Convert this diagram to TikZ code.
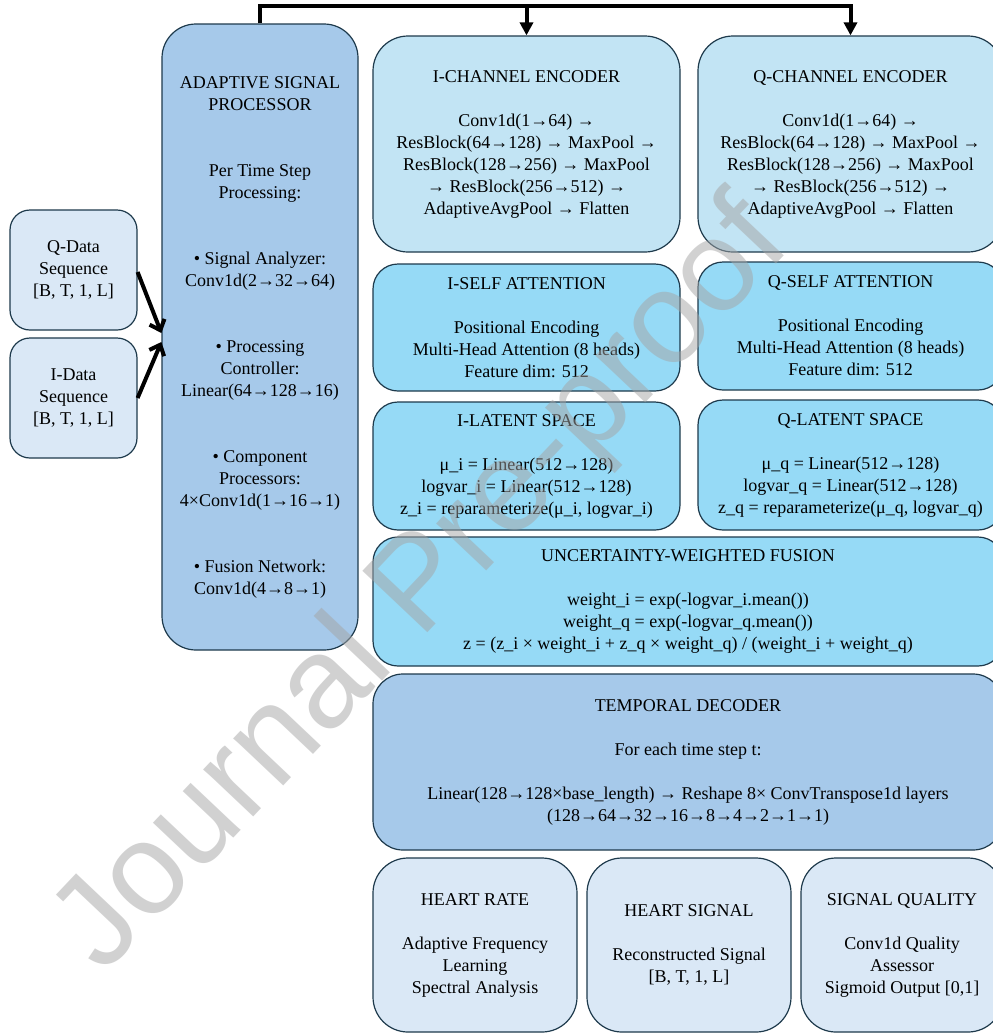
\documentclass[tikz,border=0pt]{standalone}
\usepackage{fontspec}
\setmainfont{Liberation Serif}
\newfontfamily\wmfont{Liberation Sans}
\usetikzlibrary{arrows.meta}
\definecolor{cLight}{HTML}{DAE8F6}
\definecolor{cMid}{HTML}{A6C9EA}
\definecolor{cEnc}{HTML}{C2E4F4}
\definecolor{cCyan}{HTML}{96DAF6}
\definecolor{cEdge}{HTML}{1E3A4C}
\definecolor{cWM}{HTML}{A4A4A4}
\tikzset{
  blk/.style={draw=cEdge, line width=1.2pt, align=center, inner sep=0pt,
    font=\fontsize{18}{22}\selectfont, text=black},
  conn/.style={line width=4pt, draw=black},
  toparrow/.style={conn, -{Triangle[length=13pt,width=13pt]}},
  inarrow/.style={conn, -{Straight Barb[length=9pt,width=16pt,line width=4pt]}},
}
\begin{document}
\begin{tikzpicture}[x=1pt,y=-1pt]
\useasboundingbox (0,0) rectangle (993,1034);
\clip (0,0) rectangle (993,1034);
\fill[white] (0,0) rectangle (993,1034);

% inputs
\node[blk, fill=cLight, rounded corners=20pt, minimum width=127pt, minimum height=120pt] (qdata) at (73.5,270)
  {Q-Data\\Sequence\\{[B, T, 1, L]}};
\node[blk, fill=cLight, rounded corners=20pt, minimum width=127pt, minimum height=120pt] (idata) at (73.5,398)
  {I-Data\\Sequence\\{[B, T, 1, L]}};

% adaptive signal processor
\node[blk, fill=cMid, rounded corners=34pt, minimum width=196pt, minimum height=626pt] (asp) at (260,337)
  {ADAPTIVE SIGNAL\\PROCESSOR\\[44pt]Per Time Step\\Processing:\\[44pt]%
   • Signal Analyzer:\\Conv1d(2→32→64)\\[44pt]• Processing\\Controller:\\Linear(64→128→16)\\[44pt]%
   • Component\\Processors:\\4×Conv1d(1→16→1)\\[44pt]• Fusion Network:\\Conv1d(4→8→1)};

% encoders
\node[blk, fill=cEnc, rounded corners=35pt, minimum width=307pt, minimum height=216pt] (ienc) at (526.5,144)
  {I-CHANNEL ENCODER\\[22pt]Conv1d(1→64) →\\ResBlock(64→128) → MaxPool →\\ResBlock(128→256) → MaxPool\\→ ResBlock(256→512) →\\AdaptiveAvgPool → Flatten};
\node[blk, fill=cEnc, rounded corners=35pt, minimum width=305pt, minimum height=216pt] (qenc) at (850.5,144)
  {Q-CHANNEL ENCODER\\[22pt]Conv1d(1→64) →\\ResBlock(64→128) → MaxPool →\\ResBlock(128→256) → MaxPool\\→ ResBlock(256→512) →\\AdaptiveAvgPool → Flatten};

% self attention
\node[blk, fill=cCyan, rounded corners=25pt, minimum width=307pt, minimum height=127pt] (iatt) at (526.5,327.5)
  {I-SELF ATTENTION\\[22pt]Positional Encoding\\Multi-Head Attention (8 heads)\\Feature dim: 512};
\node[blk, fill=cCyan, rounded corners=25pt, minimum width=305pt, minimum height=128pt] (qatt) at (850.5,326)
  {Q-SELF ATTENTION\\[22pt]Positional Encoding\\Multi-Head Attention (8 heads)\\Feature dim: 512};

% latent
\node[blk, fill=cCyan, rounded corners=25pt, minimum width=307pt, minimum height=128pt] (ilat) at (526.5,466)
  {I-LATENT SPACE\\[22pt]μ\_i = Linear(512→128)\\logvar\_i = Linear(512→128)\\z\_i = reparameterize(μ\_i, logvar\_i)};
\node[blk, fill=cCyan, rounded corners=25pt, minimum width=305pt, minimum height=130pt] (qlat) at (850.5,465)
  {Q-LATENT SPACE\\[22pt]μ\_q = Linear(512→128)\\logvar\_q = Linear(512→128)\\z\_q = reparameterize(μ\_q, logvar\_q)};

% fusion
\node[blk, fill=cCyan, rounded corners=25pt, minimum width=630pt, minimum height=129pt] (fus) at (688,601.5)
  {UNCERTAINTY-WEIGHTED FUSION\\[22pt]weight\_i = exp(-logvar\_i.mean())\\weight\_q = exp(-logvar\_q.mean())\\z = (z\_i × weight\_i + z\_q × weight\_q) / (weight\_i + weight\_q)};

% decoder
\node[blk, fill=cMid, rounded corners=30pt, minimum width=630pt, minimum height=176pt] (dec) at (688,762)
  {TEMPORAL DECODER\\[22pt]For each time step t:\\[22pt]Linear(128→128×base\_length) → Reshape 8× ConvTranspose1d layers\\(128→64→32→16→8→4→2→1→1)};

% outputs
\node[blk, fill=cLight, rounded corners=35pt, minimum width=204pt, minimum height=174pt] (hr) at (475,945)
  {HEART RATE\\[22pt]Adaptive Frequency\\Learning\\Spectral Analysis};
\node[blk, fill=cLight, rounded corners=35pt, minimum width=204pt, minimum height=174pt] (hs) at (689,945)
  {HEART SIGNAL\\[22pt]Reconstructed Signal\\{[B, T, 1, L]}};
\node[blk, fill=cLight, rounded corners=35pt, minimum width=202pt, minimum height=174pt] (sq) at (902,945)
  {SIGNAL QUALITY\\[22pt]Conv1d Quality\\Assessor\\Sigmoid Output [0,1]};

% connectors
\coordinate (bus) at (260,6);
\draw[toparrow] (asp.north) -- (bus) -| (qenc.north);
\draw[toparrow] (ienc.north |- bus) -- (ienc.north);
\draw[inarrow] ([yshift=-2pt]qdata.east) -- ([yshift=4pt]asp.west);
\draw[inarrow] (idata.east) -- ([yshift=-5pt]asp.west);

% watermark
\node[text=cWM, text opacity=0.5, rotate=46.6, font=\wmfont\fontsize{130}{130}\selectfont, inner sep=0pt] (wm) at (424,588) {Journal Pre-proof};
\end{tikzpicture}
\end{document}
